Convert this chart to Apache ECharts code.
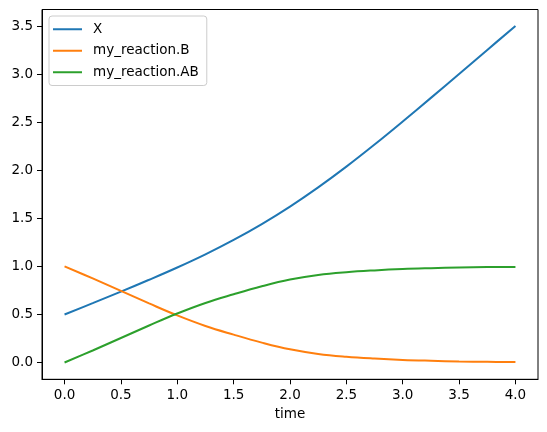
<!DOCTYPE html>
<html>
<head>
<meta charset="utf-8">
<script src="https://cdn.jsdelivr.net/npm/echarts@6/dist/echarts.min.js"></script>
<style>
  html, body { margin: 0; padding: 0; background: #fff; }
  #chart { width: 547px; height: 432px; }
</style>
</head>
<body>
<div id="chart"></div>
<script>
const times = [0, 0.25, 0.5, 0.75, 1.0, 1.25, 1.5, 1.75, 2.0, 2.25, 2.5, 2.75, 3.0, 3.25, 3.5, 3.75, 4.0];
const xValues = [0.50, 0.618, 0.738, 0.861, 0.989, 1.126, 1.276, 1.441, 1.623, 1.823, 2.039, 2.269, 2.509, 2.755, 3.004, 3.254, 3.504];
const bValues = [1.0, 0.875, 0.745, 0.615, 0.49, 0.38, 0.29, 0.207, 0.137, 0.089, 0.06, 0.041, 0.027, 0.018, 0.011, 0.007, 0.005];
const abValues = [0.0, 0.125, 0.255, 0.385, 0.51, 0.62, 0.71, 0.793, 0.863, 0.911, 0.94, 0.959, 0.973, 0.982, 0.989, 0.993, 0.995];
const seriesNames = ['X', 'my_reaction.B', 'my_reaction.AB'];
const seriesColors = ['#1f77b4', '#ff7f0e', '#2ca02c'];
const xTicks = [0, 0.5, 1.0, 1.5, 2.0, 2.5, 3.0, 3.5, 4.0];
const yTicks = [0, 0.5, 1.0, 1.5, 2.0, 2.5, 3.0, 3.5];

const font = 'DejaVu Sans';
const chart = echarts.init(document.getElementById('chart'));

function pairs(values) {
    return times.map((t, i) => [t, values[i]]);
}

const allValues = [xValues, bValues, abValues];
const series = seriesNames.map((name, i) => ({
    name: name, type: 'line', data: pairs(allValues[i]),
    symbol: 'none', smooth: 0.4,
    lineStyle: { width: 2, color: seriesColors[i] },
    itemStyle: { color: seriesColors[i] }
}));

const axisCommon = {
    type: 'value',
    axisLine: { show: true, onZero: false, lineStyle: { color: '#000', width: 1 } },
    splitLine: { show: false },
    axisLabel: { color: '#000', fontFamily: font, fontSize: 13.5, formatter: v => v.toFixed(1) }
};

const option = {
    animation: false,
    backgroundColor: '#fff',
    grid: {
        left: 42, right: 9, top: 9.5, bottom: 52.7, containLabel: false,
        show: true, borderColor: '#000', borderWidth: 1, backgroundColor: 'transparent'
    },
    legend: {
        orient: 'vertical', left: 49, top: 16,
        backgroundColor: 'rgba(255,255,255,0.8)', borderColor: '#ccc', borderWidth: 1, borderRadius: 3,
        padding: [5, 8, 5, 4], itemGap: 5,
        itemWidth: 29, itemHeight: 2, icon: 'rect',
        textStyle: { color: '#000', fontFamily: font, fontSize: 13.5, lineHeight: 16.5, padding: [0, 0, 0, 6] },
        data: seriesNames
    },
    xAxis: Object.assign({}, axisCommon, {
        min: -0.2, max: 4.2,
        name: 'time', nameLocation: 'middle', nameGap: 28.5,
        nameTextStyle: { color: '#000', fontFamily: font, fontSize: 13.5 },
        axisTick: { show: true, inside: false, length: 5, customValues: xTicks, lineStyle: { color: '#000' } },
        axisLabel: Object.assign({}, axisCommon.axisLabel, { margin: 9, customValues: xTicks })
    }),
    yAxis: Object.assign({}, axisCommon, {
        min: -0.175, max: 3.675,
        axisTick: { show: true, inside: false, length: 5, customValues: yTicks, lineStyle: { color: '#000' } },
        axisLabel: Object.assign({}, axisCommon.axisLabel, { margin: 9, customValues: yTicks })
    }),
    series: series
};

chart.setOption(option);
</script>
</body>
</html>
